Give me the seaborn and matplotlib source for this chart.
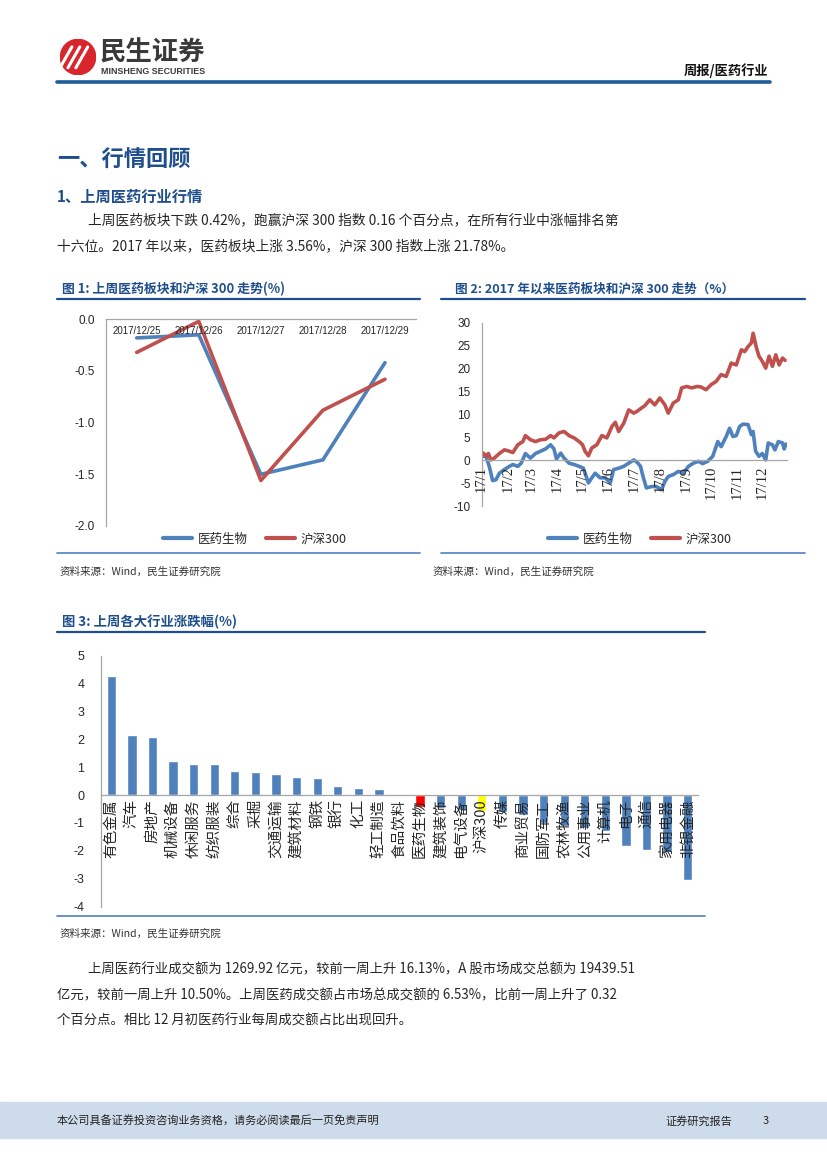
import pandas as pd
import seaborn as sns
import matplotlib.pyplot as plt
from matplotlib.lines import Line2D
from matplotlib.patches import Rectangle, Circle

# ---- data -------------------------------------------------------------
# Fig 1: last week, cumulative change (%)
week_days = ["2017/12/25", "2017/12/26", "2017/12/27", "2017/12/28", "2017/12/29"]
pharma_week = [-0.18, -0.15, -1.50, -1.36, -0.42]
hs300_week = [-0.32, -0.02, -1.56, -0.88, -0.58]

# Fig 2: 2017 year to date (%), x = day of year
hs300_ytd_day = [2, 5, 8, 11, 15, 21, 27, 33, 37, 43, 49, 52, 58, 64, 70, 76, 82, 86, 92, 98,
                 104, 110, 116, 120, 123, 127, 131, 137, 143, 149, 155, 159, 163, 169, 175, 181,
                 185, 190, 194, 200, 206, 212, 218, 222, 228, 234, 238, 244, 250, 256, 261, 267,
                 273, 279, 285, 291, 297, 303, 309, 313, 317, 321, 323, 327, 330, 334, 338, 342,
                 346, 350, 354, 358, 361]
hs300_ytd = [1.6, 0.9, 1.5, 0.1, 0.5, 1.5, 2.3, 2.0, 1.7, 3.4, 4.1, 5.4, 4.5, 4.1, 4.5, 4.6,
             5.4, 4.9, 6.0, 6.3, 5.4, 4.9, 4.1, 3.4, 2.0, 1.0, 2.7, 3.4, 5.4, 4.9, 7.4, 8.3,
             6.3, 8.1, 11.0, 10.3, 10.7, 11.4, 11.9, 13.2, 12.1, 13.6, 12.1, 10.3, 12.5, 13.2,
             15.8, 16.1, 15.8, 16.1, 16.0, 15.4, 16.5, 17.2, 18.7, 18.3, 21.2, 20.8, 24.1,
             23.7, 24.8, 25.6, 27.7, 24.5, 22.7, 21.6, 20.1, 22.7, 20.5, 23.0, 20.8, 22.3, 21.8]
pharma_ytd_day = [2, 5, 9, 13, 17, 21, 27, 33, 37, 43, 47, 52, 58, 64, 70, 76, 82, 86, 89, 94,
                  98, 104, 110, 116, 121, 127, 131, 135, 141, 147, 153, 157, 163, 169, 175, 181,
                  185, 189, 192, 196, 202, 208, 214, 218, 222, 228, 234, 240, 246, 252, 258, 263,
                  269, 275, 281, 285, 291, 295, 299, 303, 307, 311, 317, 321, 323, 326, 330, 334,
                  338, 341, 346, 349, 353, 358, 360, 362]
pharma_ytd = [0.9, 0.9, -1.3, -4.4, -4.2, -2.8, -2.0, -1.3, -0.9, -1.3, -0.6, 1.5, 0.5, 1.5,
              2.0, 2.5, 3.4, 2.5, 0.3, 1.6, 0.5, -0.6, -0.9, -1.3, -1.7, -4.9, -3.8, -2.8, -3.8,
              -3.8, -4.9, -2.0, -1.7, -1.3, -0.6, 0.1, -0.4, -1.3, -3.5, -6.0, -5.7, -5.7, -6.4,
              -4.6, -3.5, -3.1, -2.4, -2.8, -1.3, -0.6, -0.2, -0.7, -0.2, 0.9, 4.1, 3.0, 5.2,
              7.0, 5.2, 5.4, 7.4, 7.9, 7.8, 5.6, 6.3, 2.0, 0.9, 1.5, 0.1, 3.8, 3.4, 2.3, 4.1,
              3.8, 2.5, 3.56]
month_start_day = [0, 31, 59, 90, 120, 151, 181, 212, 243, 273, 304, 334]
month_labels = ["17/1", "17/2", "17/3", "17/4", "17/5", "17/6",
                "17/7", "17/8", "17/9", "17/10", "17/11", "17/12"]

# Fig 3: last week change by industry (%)
industries = ["有色金属", "汽车", "房地产", "机械设备", "休闲服务", "纺织服装", "综合", "采掘",
              "交通运输", "建筑材料", "钢铁", "银行", "化工", "轻工制造", "食品饮料", "医药生物",
              "建筑装饰", "电气设备", "沪深300", "传媒", "商业贸易", "国防军工", "农林牧渔",
              "公用事业", "计算机", "电子", "通信", "家用电器", "非银金融"]
industry_chg = [4.28, 2.17, 2.07, 1.21, 1.11, 1.10, 0.88, 0.82, 0.75, 0.63, 0.60, 0.34, 0.26,
                0.23, -0.02, -0.42, -0.45, -0.52, -0.58, -0.62, -0.72, -1.00, -1.12, -1.20,
                -1.28, -1.84, -1.98, -2.05, -3.06]

# ---- style ------------------------------------------------------------
sns.set_style("white")
plt.rcParams["font.family"] = ["Liberation Sans", "Noto Sans CJK SC", "DejaVu Sans"]
plt.rcParams["axes.unicode_minus"] = False
CJK = ["Noto Sans CJK SC", "DejaVu Sans"]
BLUE = "#4F81BD"
RED = "#C0504D"
NAVY = "#1F4E8C"
GREY = "#A6A6A6"

W, H = 827, 1169
fig = plt.figure(figsize=(W / 100, H / 100), dpi=100)


def fx(x):
    return x / W


def fy(y):
    return 1 - y / H


def ftext(x, y, s, **kw):
    kw.setdefault("family", CJK)
    kw.setdefault("va", "center")
    fig.text(fx(x), fy(y), s, **kw)


def hline(x0, x1, y, color=NAVY, lw=1.5):
    fig.add_artist(Line2D([fx(x0), fx(x1)], [fy(y), fy(y)], color=color, lw=lw,
                          transform=fig.transFigure))


def axes_px(left, top, right, bottom):
    return fig.add_axes([fx(left), fy(bottom), (right - left) / W, (bottom - top) / H])


# ---- page furniture ---------------------------------------------------
logo = axes_px(60, 39, 96, 75)
logo.set_xlim(0, 1)
logo.set_ylim(0, 1)
logo.axis("off")
logo.add_patch(Circle((0.5, 0.5), 0.49, color="#D9262C"))
for off in (-0.22, 0.0, 0.22):
    logo.plot([0.22 + off, 0.55 + off], [0.2, 0.78], color="white", lw=2.2,
              solid_capstyle="round")
ftext(100, 53, "民生证券", fontsize=19, weight="bold", color="#3A3A3A")
ftext(101, 71, "MINSHENG SECURITIES", fontsize=6.4, weight="bold", color="#3A3A3A",
      family=["Liberation Sans"])
ftext(768, 71, "周报/医药行业", fontsize=9.5, weight="bold", ha="right", color="#111111")
hline(57, 770, 82, color="#1F5C99", lw=2.6)

ftext(57, 160, "一、行情回顾", fontsize=16, weight="bold", color=NAVY)
ftext(57, 197, "1、上周医药行业行情", fontsize=11, weight="bold", color=NAVY)
ftext(88, 220, "上周医药板块下跌 0.42%，跑赢沪深 300 指数 0.16 个百分点，在所有行业中涨幅排名第",
      fontsize=9.9)
ftext(57, 246, "十六位。2017 年以来，医药板块上涨 3.56%，沪深 300 指数上涨 21.78%。", fontsize=9.9)

ftext(62, 289, "图 1: 上周医药板块和沪深 300 走势(%)", fontsize=9.3, weight="bold", color=NAVY)
ftext(455, 289, "图 2: 2017 年以来医药板块和沪深 300 走势（%）", fontsize=9.1, weight="bold",
      color=NAVY)
hline(57, 420, 299, lw=1.6)
hline(441, 805, 299, lw=1.6)
hline(57, 420, 553, color=BLUE, lw=1.2)
hline(441, 805, 553, color=BLUE, lw=1.2)
ftext(60, 572, "资料来源：Wind，民生证券研究院", fontsize=7.6, color="#333333")
ftext(433, 572, "资料来源：Wind，民生证券研究院", fontsize=7.6, color="#333333")

ftext(62, 622, "图 3: 上周各大行业涨跌幅(%)", fontsize=9.6, weight="bold", color=NAVY)
hline(57, 705, 632, lw=1.6)
hline(57, 705, 916, color=BLUE, lw=1.2)
ftext(60, 934, "资料来源：Wind，民生证券研究院", fontsize=7.6, color="#333333")

ftext(88, 969, "上周医药行业成交额为 1269.92 亿元，较前一周上升 16.13%，A 股市场成交总额为 19439.51",
      fontsize=9.6)
ftext(57, 995, "亿元，较前一周上升 10.50%。上周医药成交额占市场总成交额的 6.53%，比前一周上升了 0.32",
      fontsize=9.6)
ftext(57, 1021, "个百分点。相比 12 月初医药行业每周成交额占比出现回升。", fontsize=9.6)

fig.add_artist(Rectangle((0, fy(1138)), 1, (1138 - 1102) / H, color="#CEDBEA",
                         transform=fig.transFigure, zorder=0))
ftext(57, 1121, "本公司具备证券投资咨询业务资格，请务必阅读最后一页免责声明", fontsize=8,
      color="#222222")
ftext(665, 1121, "证券研究报告", fontsize=8, color="#222222")
ftext(763, 1121, "3", fontsize=8, color="#222222")


def style_axis(ax):
    ax.set_axisbelow(False)
    for side in ("top", "right"):
        ax.spines[side].set_visible(False)
    for side in ("left", "bottom"):
        ax.spines[side].set_color(GREY)
        ax.spines[side].set_linewidth(0.9)
    ax.spines["bottom"].set_position(("data", 0))
    ax.tick_params(axis="y", which="major", length=3, color=GREY, direction="out",
                   labelsize=8.5, pad=5)
    ax.set_xlabel("")
    ax.set_ylabel("")
    ax.grid(False)


def legend_at(cx, cy):
    handles = [Line2D([], [], color=BLUE, lw=3), Line2D([], [], color=RED, lw=3)]
    leg = fig.legend(handles, ["医药生物", "沪深300"], loc="center",
                     bbox_to_anchor=(fx(cx), fy(cy)), ncol=2, frameon=False,
                     handlelength=2.3, columnspacing=1.4, handletextpad=0.5,
                     prop={"family": CJK, "size": 9})
    return leg


# ---- Fig 1 ------------------------------------------------------------
ax1 = axes_px(105.7, 319.3, 416, 526)
df1 = pd.DataFrame({
    "date": week_days * 2,
    "chg": pharma_week + hs300_week,
    "series": ["医药生物"] * len(week_days) + ["沪深300"] * len(week_days),
})
sns.lineplot(data=df1, x="date", y="chg", hue="series", palette=[BLUE, RED],
             linewidth=2.6, legend=False, ax=ax1)
ax1.set_xlim(-0.5, 4.5)
ax1.set_ylim(-2, 0)
style_axis(ax1)
ax1.set_yticks([0, -0.5, -1.0, -1.5, -2.0])
ax1.set_yticklabels(["0.0", "-0.5", "-1.0", "-1.5", "-2.0"])
ax1.set_xticks(range(len(week_days)))
ax1.set_xticklabels(week_days, fontsize=7)
ax1.set_xticks([i - 0.5 for i in range(len(week_days) + 1)], minor=True)
ax1.tick_params(axis="x", which="major", length=0, pad=5)
ax1.tick_params(axis="x", which="minor", length=3, color=GREY)
legend_at(255, 539)

# ---- Fig 2 ------------------------------------------------------------
ax2 = axes_px(481.7, 322.7, 786.7, 506.3)
df2 = pd.concat([
    pd.DataFrame({"day": pharma_ytd_day, "chg": pharma_ytd, "series": "医药生物"}),
    pd.DataFrame({"day": hs300_ytd_day, "chg": hs300_ytd, "series": "沪深300"}),
])
sns.lineplot(data=df2, x="day", y="chg", hue="series", palette=[BLUE, RED],
             linewidth=2.6, legend=False, ax=ax2)
ax2.set_xlim(1, 363)
ax2.set_ylim(-10, 30)
style_axis(ax2)
ax2.set_yticks(range(-10, 31, 5))
ax2.set_xticks(month_start_day)
ax2.set_xticklabels(month_labels, rotation=90, family="Liberation Serif", fontsize=10.5)
ax2.tick_params(axis="x", which="major", length=3, color=GREY, pad=1)
legend_at(640, 539)

# ---- Fig 3 ------------------------------------------------------------
ax3 = axes_px(101, 655.7, 698, 906.5)
palette = {name: BLUE for name in industries}
palette["医药生物"] = "#FF0000"
palette["沪深300"] = "#FFFF00"
sns.barplot(x=industries, y=industry_chg, hue=industries, palette=palette, width=0.45,
            legend=False, ax=ax3, saturation=1)
ax3.set_xlim(-0.5, len(industries) - 0.5)
ax3.set_ylim(-4, 5)
style_axis(ax3)
ax3.set_yticks(range(-4, 6))
ax3.tick_params(axis="y", labelsize=9, pad=9)
ax3.set_xticks(range(len(industries)))
ax3.set_xticklabels(industries, rotation=90, family=CJK, fontsize=10.5)
ax3.set_xticks([i - 0.5 for i in range(len(industries) + 1)], minor=True)
ax3.tick_params(axis="x", which="major", length=0, pad=3)
ax3.tick_params(axis="x", which="minor", length=3, color=GREY, direction="inout")

fig.savefig("out.png", dpi=100)
